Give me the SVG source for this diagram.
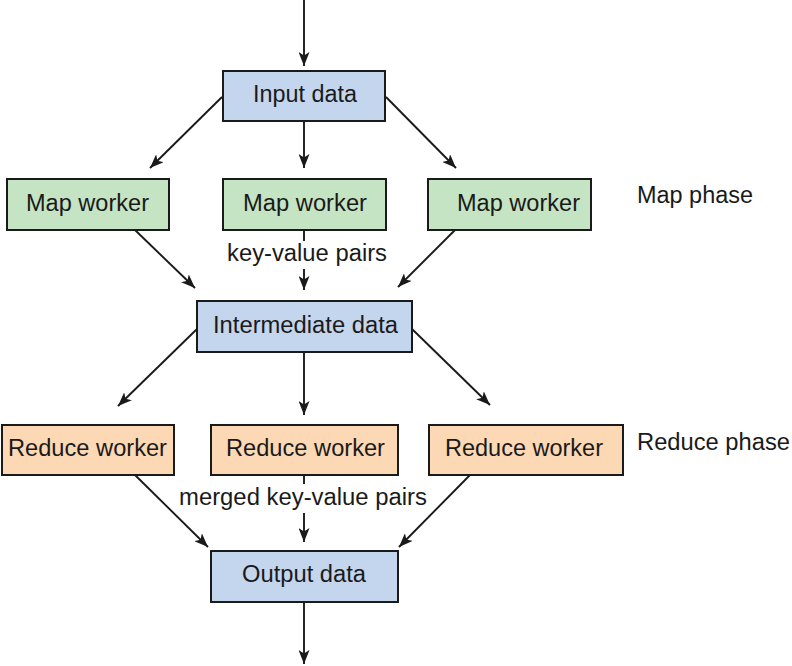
<svg xmlns="http://www.w3.org/2000/svg" width="792" height="666" viewBox="0 0 792 666">
<defs>
<style>
.box{stroke:#1a1a1a;stroke-width:2}
.blue{fill:#c4d5ee}
.green{fill:#c5e4c3}
.orange{fill:#fdd8b5}
text{font-family:"Liberation Sans",Arial,sans-serif;font-size:23px;fill:#1a1a1a}
.c line{stroke:#1a1a1a;stroke-width:1.9;fill:none}
</style>
<marker id="ah" viewBox="0 0 14 11" refX="14" refY="5.5" markerWidth="14" markerHeight="11" markerUnits="userSpaceOnUse" orient="auto">
<path d="M0,0 L14,5.5 L0,11 L3.5,5.5 z" fill="#1a1a1a"/>
</marker>
</defs>
<rect width="792" height="666" fill="#fff"/>
<g class="c" id="connectors">
<line x1="304" y1="0" x2="304" y2="66" marker-end="url(#ah)"/>
<line x1="222" y1="97" x2="150" y2="168" marker-end="url(#ah)"/>
<line x1="304" y1="121" x2="304" y2="168" marker-end="url(#ah)"/>
<line x1="386" y1="97" x2="456" y2="168" marker-end="url(#ah)"/>
<line x1="135" y1="230" x2="195" y2="288" marker-end="url(#ah)"/>
<line x1="304" y1="230" x2="304" y2="241"/>
<line x1="304" y1="269" x2="304" y2="290" marker-end="url(#ah)"/>
<line x1="455" y1="230" x2="398" y2="287" marker-end="url(#ah)"/>
<line x1="197" y1="329" x2="118" y2="406" marker-end="url(#ah)"/>
<line x1="304" y1="352" x2="304" y2="415" marker-end="url(#ah)"/>
<line x1="412" y1="329" x2="490" y2="405" marker-end="url(#ah)"/>
<line x1="135" y1="475" x2="208" y2="547" marker-end="url(#ah)"/>
<line x1="304" y1="475" x2="304" y2="484"/>
<line x1="304" y1="513" x2="304" y2="542" marker-end="url(#ah)"/>
<line x1="470" y1="475" x2="399" y2="547" marker-end="url(#ah)"/>
<line x1="304" y1="602" x2="304" y2="664" marker-end="url(#ah)"/>
</g>
<g id="label-kv"><text x="227" y="261" textLength="160" lengthAdjust="spacingAndGlyphs">key-value pairs</text></g>
<g id="label-merged"><text x="179" y="505" textLength="248" lengthAdjust="spacingAndGlyphs">merged key-value pairs</text></g>
<g id="input"><rect class="box blue" x="223" y="71" width="162" height="50"/><text x="253" y="102" textLength="104" lengthAdjust="spacingAndGlyphs">Input data</text></g>
<g id="map1"><rect class="box green" x="7" y="179" width="162" height="51"/><text x="26" y="211" textLength="123" lengthAdjust="spacingAndGlyphs">Map worker</text></g>
<g id="map2"><rect class="box green" x="223" y="179" width="163" height="51"/><text x="243" y="211" textLength="124" lengthAdjust="spacingAndGlyphs">Map worker</text></g>
<g id="map3"><rect class="box green" x="428" y="179" width="163" height="51"/><text x="457" y="211" textLength="123" lengthAdjust="spacingAndGlyphs">Map worker</text></g>
<g id="map-phase"><text x="637" y="203" textLength="116" lengthAdjust="spacingAndGlyphs">Map phase</text></g>
<g id="intermediate"><rect class="box blue" x="197" y="301" width="215" height="51"/><text x="213" y="333" textLength="185" lengthAdjust="spacingAndGlyphs">Intermediate data</text></g>
<g id="reduce1"><rect class="box orange" x="2" y="425" width="172" height="50"/><text x="8" y="456" textLength="159" lengthAdjust="spacingAndGlyphs">Reduce worker</text></g>
<g id="reduce2"><rect class="box orange" x="211" y="425" width="187" height="50"/><text x="226" y="456" textLength="159" lengthAdjust="spacingAndGlyphs">Reduce worker</text></g>
<g id="reduce3"><rect class="box orange" x="429" y="425" width="194" height="50"/><text x="445" y="456" textLength="158" lengthAdjust="spacingAndGlyphs">Reduce worker</text></g>
<g id="reduce-phase"><text x="637" y="450" textLength="153" lengthAdjust="spacingAndGlyphs">Reduce phase</text></g>
<g id="output"><rect class="box blue" x="211" y="551" width="187" height="51"/><text x="242" y="582" textLength="124" lengthAdjust="spacingAndGlyphs">Output data</text></g>
</svg>
